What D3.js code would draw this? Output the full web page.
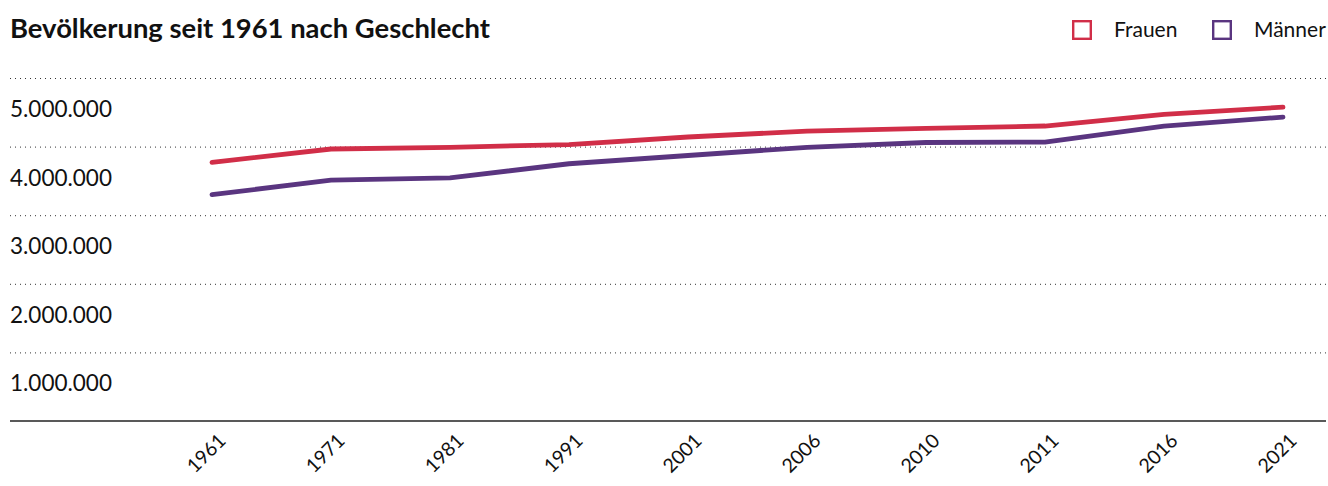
<!DOCTYPE html>
<html>
<head>
<meta charset="utf-8">
<script src="https://cdn.jsdelivr.net/npm/d3@7"></script>
<style>
  body { margin: 0; background: #fff; }
  svg { font-family: Lato, "Open Sans", sans-serif; }
</style>
</head>
<body>
<div id="chart"></div>
<script>
// data
var years = ["1961", "1971", "1981", "1991", "2001", "2006", "2010", "2011", "2016", "2021"];
var frauen = [3770000, 3965000, 3990000, 4030000, 4140000, 4225000, 4265000, 4300000, 4470000, 4575000];
var maenner = [3300000, 3510000, 3545000, 3750000, 3870000, 3990000, 4060000, 4065000, 4300000, 4430000];
var yTicks = [1000000, 2000000, 3000000, 4000000, 5000000];
var seriesNames = ["Frauen", "Männer"];
var colors = ["#d12e48", "#5a3580"];

var w = 1328;
var h = 486;
var baseY = 421;
var topY = 78;

var svg = d3.select("#chart")
  .append("svg")
  .attr("width", w)
  .attr("height", h);

var xScale = d3.scalePoint()
  .domain(years)
  .range([212, 1283]);

var yScale = d3.scaleLinear()
  .domain([0, 5000000])
  .range([baseY, topY]);

var fmt = function(d) {
  return d3.format(",")(d).replace(/,/g, ".");
};

// title
svg.append("text")
  .attr("x", 10)
  .attr("y", 38)
  .attr("font-size", "27.4px")
  .attr("font-weight", "bold")
  .attr("fill", "#111")
  .text("Bevölkerung seit 1961 nach Geschlecht");

// legend
var legendX = [1072, 1212];
seriesNames.forEach(function(name, i) {
  svg.append("rect")
    .attr("x", legendX[i] + 1.2)
    .attr("y", 21.2)
    .attr("width", 17.6)
    .attr("height", 17.6)
    .attr("fill", "none")
    .attr("stroke", colors[i])
    .attr("stroke-width", 2.4);
  svg.append("text")
    .attr("x", legendX[i] + 42)
    .attr("y", 37)
    .attr("font-size", "21px")
    .attr("fill", "#111")
    .text(name);
});

// dotted grid lines
svg.selectAll("line.grid")
  .data(yTicks)
  .enter()
  .append("line")
  .attr("class", "grid")
  .attr("x1", 10)
  .attr("x2", 1326)
  .attr("y1", function(d) { return yScale(d) + 0.5; })
  .attr("y2", function(d) { return yScale(d) + 0.5; })
  .attr("stroke", "#333")
  .attr("stroke-width", 1)
  .attr("stroke-dasharray", "1,4");

// y labels, sitting under their grid line
svg.selectAll("text.ylab")
  .data(yTicks)
  .enter()
  .append("text")
  .attr("class", "ylab")
  .attr("x", 10)
  .attr("y", function(d) { return yScale(d) + 39; })
  .attr("font-size", "22.5px")
  .attr("fill", "#111")
  .text(fmt);

// base line
svg.append("line")
  .attr("x1", 10)
  .attr("x2", 1326)
  .attr("y1", baseY)
  .attr("y2", baseY)
  .attr("stroke", "#222")
  .attr("stroke-width", 1.6);

// x labels
svg.selectAll("text.xlab")
  .data(years)
  .enter()
  .append("text")
  .attr("class", "xlab")
  .attr("transform", function(d) {
    return "translate(" + (xScale(d) + 15) + "," + 442 + ") rotate(-45)";
  })
  .attr("text-anchor", "end")
  .attr("font-size", "19.5px")
  .attr("fill", "#111")
  .text(function(d) { return d; });

// lines
var line = d3.line()
  .x(function(d, i) { return xScale(years[i]); })
  .y(function(d) { return yScale(d); });

[frauen, maenner].forEach(function(series, i) {
  svg.append("path")
    .datum(series)
    .attr("d", line)
    .attr("fill", "none")
    .attr("stroke", colors[i])
    .attr("stroke-width", 4.8)
    .attr("stroke-linecap", "round")
    .attr("stroke-linejoin", "round");
});
</script>
</body>
</html>
